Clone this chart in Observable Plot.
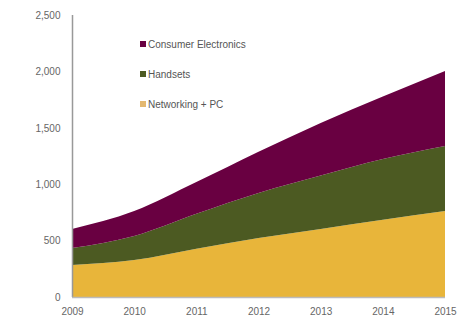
<!DOCTYPE html>
<html>
<head>
<meta charset="utf-8">
<script src="https://cdn.jsdelivr.net/npm/d3@7"></script>
<script src="https://cdn.jsdelivr.net/npm/@observablehq/plot@0.6"></script>
<style>
  html, body { margin: 0; padding: 0; background: #fff; }
  #wrap { position: relative; width: 467px; height: 325px; font-family: "Liberation Sans", Arial, sans-serif; }
  #legend { position: absolute; left: 140px; top: 37px; font-size: 10px; color: #555; }
  #legend .item { display: flex; align-items: center; height: 14px; margin-bottom: 16px; }
  #legend .sw { width: 6px; height: 6px; margin-right: 2px; }
</style>
</head>
<body>
<div id="wrap"></div>
<script>
const years = [2009, 2010, 2011, 2012, 2013, 2014, 2015];
const networkingPC = [284, 328, 428, 523, 603, 685, 762];
const handsets = [150, 213, 310, 399, 474, 538, 577];
const consumerElectronics = [169, 221, 281, 366, 466, 555, 665];
const seriesNames = ["Networking + PC", "Handsets", "Consumer Electronics"];
const seriesColors = ["#e8b53a", "#4c5a22", "#690041"];
const yTicks = [0, 500, 1000, 1500, 2000, 2500];

const seriesValues = [networkingPC, handsets, consumerElectronics];
const data = [];
seriesNames.forEach((name, si) => {
  years.forEach((yr, i) => data.push({ year: yr, value: seriesValues[si][i], series: name }));
});

const chart = Plot.plot({
  width: 467,
  height: 325,
  marginLeft: 72,
  marginRight: 22,
  marginTop: 15,
  marginBottom: 28,
  style: { fontFamily: "Liberation Sans, Arial, sans-serif", fontSize: "10px", color: "#666", background: "#fff" },
  x: { domain: [2009, 2015], ticks: years, tickFormat: d => String(d), tickSize: 0, tickPadding: 10, label: null },
  y: { domain: [0, 2500], ticks: yTicks, tickFormat: d3.format(","), tickSize: 0, tickPadding: 12, label: null },
  color: { domain: seriesNames, range: seriesColors },
  marks: [
    Plot.areaY(data, { x: "year", y: "value", fill: "series", order: seriesNames, curve: "monotone-x" }),
    Plot.ruleX([2009], { stroke: "#999", strokeWidth: 1.5 }),
    Plot.ruleY([0], { stroke: "#bbb", strokeWidth: 1.5 })
  ]
});

const wrap = document.getElementById("wrap");
wrap.appendChild(chart);

const legend = document.createElement("div");
legend.id = "legend";
const legendOrder = ["Consumer Electronics", "Handsets", "Networking + PC"];
legendOrder.forEach(name => {
  const item = document.createElement("div");
  item.className = "item";
  const sw = document.createElement("span");
  sw.className = "sw";
  sw.style.background = name === "Networking + PC" ? "#e3b870" : seriesColors[seriesNames.indexOf(name)];
  const label = document.createElement("span");
  label.textContent = name;
  item.appendChild(sw);
  item.appendChild(label);
  legend.appendChild(item);
});
wrap.appendChild(legend);
</script>
</body>
</html>
